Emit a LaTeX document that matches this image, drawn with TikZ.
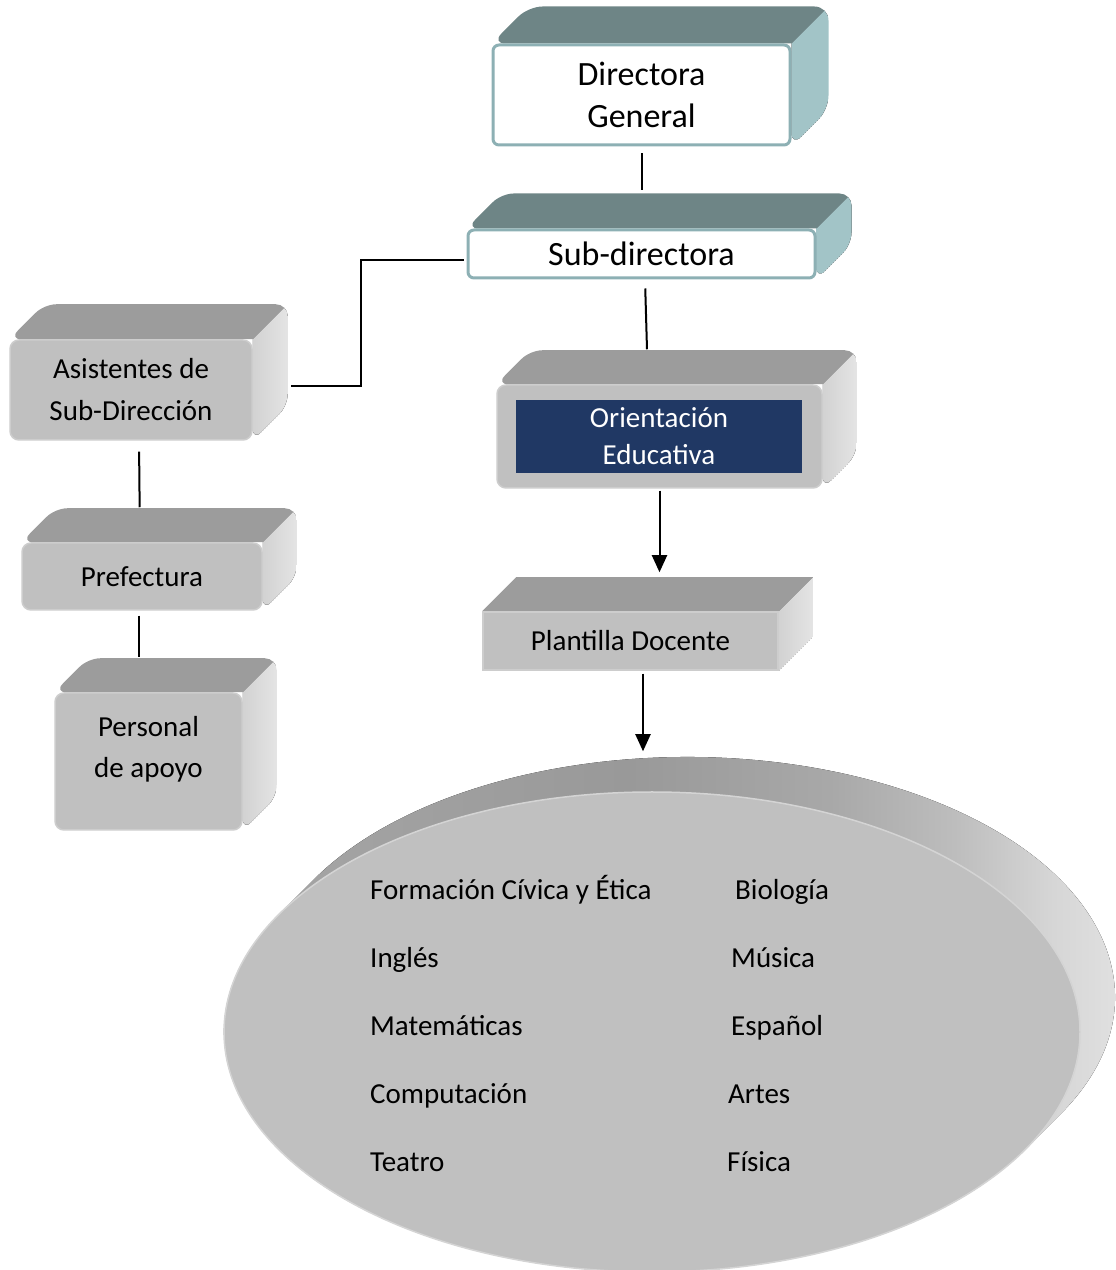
\documentclass[tikz,border=0pt]{standalone}
\usepackage{fontspec}
\setmainfont{Carlito}
\usetikzlibrary{arrows.meta,backgrounds,calc,shapes.geometric}
\definecolor{tealtop}{HTML}{6E8586}
\definecolor{tealside}{HTML}{A2C4C7}
\definecolor{tealrim}{HTML}{8DB0B4}
\definecolor{graytop}{HTML}{9C9C9C}
\definecolor{grayside}{HTML}{D2D2D2}
\definecolor{grayout}{HTML}{E4E4E4}
\definecolor{boxgray}{HTML}{C0C0C0}
\definecolor{boxrim}{HTML}{CDCDCD}
\definecolor{navy}{HTML}{203864}
\pgfdeclarehorizontalshading{rimshade}{100bp}{color(0bp)=(black!36); color(29bp)=(black!35); color(48bp)=(black!40); color(58bp)=(black!34); color(64bp)=(black!26); color(69bp)=(black!16); color(73bp)=(black!11); color(100bp)=(black!10)}
\tikzset{%
  tealbox/.style={draw=tealrim,line width=3pt,fill=white,rounded corners=6pt,inner sep=0pt,align=center,font=\fontsize{34}{42}\selectfont},
  graybox/.style={draw=boxrim,line width=1.5pt,fill=boxgray,rounded corners=9pt,inner sep=0pt,align=center,font=\fontsize{29}{42}\selectfont},
  flatbox/.style={graybox,sharp corners},
  navybox/.style={fill=navy,text=white,inner sep=0pt,align=center,font=\fontsize{29}{37}\selectfont},
  subject/.style={anchor=base west,inner sep=0pt,font=\fontsize{29}{35}\selectfont},
  conn/.style={draw=black,line width=2pt},
  arr/.style={conn,-{Triangle[length=17pt,width=15pt]}}
}
\begin{document}
\begin{tikzpicture}[x=1pt,y=1pt]
  \useasboundingbox (0,0) rectangle (1116,1270);
  \path
    (641.5,1175) node (dg)[tealbox,minimum width=297pt,minimum height=100pt]{Directora\\General}
    (641.5,1016) node (sd)[tealbox,minimum width=347pt,minimum height=48pt]{Sub-directora}
    (131,880) node (asis)[graybox,minimum width=242pt,minimum height=100pt]{Asistentes de\\Sub-Dirección}
    (142,693.5) node (pref)[graybox,minimum width=240pt,minimum height=67pt]{Prefectura}
    (148.5,508.5) node (pers)[graybox,minimum width=187pt,minimum height=137pt]{}
    (148.5,520.5) node (perstxt)[graybox,draw=none,fill=none,font=\fontsize{29}{41}\selectfont]{Personal\\de apoyo}
    (659.5,833.5) node (oe)[graybox,minimum width=325pt,minimum height=103pt]{}
    (659,833.5) node (oetxt)[navybox,minimum width=286pt,minimum height=73pt]{Orientación\\Educativa}
    (630.5,629) node (pd)[flatbox,minimum width=295pt,minimum height=58pt]{Plantilla Docente}
    (652,238) node (subj)[ellipse,minimum width=856pt,minimum height=480pt,inner sep=0pt,fill=boxgray,draw=black!17,line width=1.5pt]{};
  % subjects
  \foreach \s/\y [count=\i] in {Formación Cívica y Ética/370, Inglés/302, Matemáticas/234, Computación/166, Teatro/98}
    \node[subject] (left\i) at (370,\y) {\s};
  \foreach \s/\x/\y [count=\i] in {Biología/735/370, Música/731/302, Español/731/234, Artes/728/166, Física/727/98}
    \node[subject] (right\i) at (\x,\y) {\s};
  % top and side faces
  \begin{scope}[on background layer]
    \foreach \n/\d/\r/\tc/\sl/\sr in {dg/37/14/tealtop/tealside/tealside, sd/35/12/tealtop/tealside/tealside, asis/35/12/graytop/grayside/grayout, pref/34/12/graytop/grayside/grayout, pers/34/12/graytop/grayside/grayout, oe/34/12/graytop/grayside/grayout, pd/34/0/graytop/grayside/grayout}{
      \begin{scope}
        \path[clip,rounded corners=\r pt] (\n.north west) -- ++(\d,\d) -- ([shift={(\d pt,\d pt)}]\n.north east) -- ([shift={(\d pt,\d pt)}]\n.south east) -- (\n.south east) -- (\n.north east) -- cycle;
        \fill[left color=\sl,right color=\sr] (\n.north east) -- ++(\d,\d) -- ([shift={(\d pt,\d pt)}]\n.south east) -- (\n.south east) -- cycle;
        \fill[\tc] (\n.north west) -- ++(\d,\d) -- ([shift={(\d pt,\d pt)}]\n.north east) -- (\n.north east) -- cycle;
      \end{scope}
    }
    \fill[shading=rimshade]
      ([shift={(35pt,35pt)}]subj.center) ++(150.7:428pt and 240pt)
      arc[start angle=150.7,end angle=-29.3,x radius=428pt,y radius=240pt]
      -- ++(-35,-35)
      arc[start angle=-29.3,end angle=-209.3,x radius=428pt,y radius=240pt] -- cycle;
  \end{scope}
  % connectors
  \draw[conn,shorten <=7pt,shorten >=38pt] (dg.south) -- (dg.south |- sd.north);
  \draw[conn,shorten <=3pt] ([yshift=-6pt]sd.west) -- ++(-106,0) |- ([shift={(38pt,4pt)}]asis.east);
  \draw[conn,shorten <=9pt,shorten >=35pt] ([xshift=3.5pt]sd.south) -- ([xshift=-11.5pt]oe.north);
  \draw[conn,shorten <=11pt,shorten >=35pt] ([xshift=8pt]asis.south) -- ([xshift=-2pt]pref.north);
  \draw[conn,shorten <=5pt,shorten >=35pt] ([xshift=-3pt]pref.south) -- ([xshift=-9.5pt]pers.north);
  \draw[arr,shorten <=2pt,shorten >=39pt] (oe.south) -- (oe.south |- pd.north);
  \draw[arr,shorten <=3pt,shorten >=40pt] ([xshift=12.5pt]pd.south) -- ([xshift=-9pt]subj.north);
\end{tikzpicture}
\end{document}
